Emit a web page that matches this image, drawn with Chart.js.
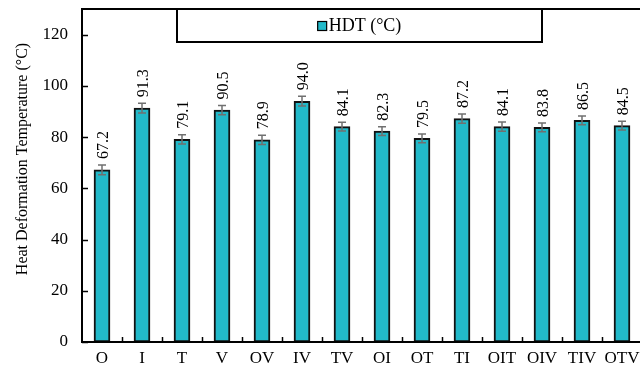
<!DOCTYPE html>
<html>
<head>
<meta charset="utf-8">
<style>
  html, body { margin: 0; padding: 0; background: #fff; overflow: hidden; }
  #wrap { width: 644px; height: 375px; position: relative; }
</style>
<script src="https://cdn.jsdelivr.net/npm/chart.js@4/dist/chart.umd.min.js"></script>
</head>
<body>
<div id="wrap"><canvas id="c" width="644" height="375"></canvas></div>
<script>
// Sample codes and measured heat deformation temperatures
const categories = ['O', 'I', 'T', 'V', 'OV', 'IV', 'TV', 'OI', 'OT', 'TI', 'OIT', 'OIV', 'TIV', 'OTV'];
const hdtValues  = [67.2, 91.3, 79.1, 90.5, 78.9, 94.0, 84.1, 82.3, 79.5, 87.2, 84.1, 83.8, 86.5, 84.5];
const hdtErrors  = [1.9, 1.9, 1.8, 1.8, 1.8, 1.9, 1.7, 1.7, 1.7, 1.8, 1.8, 1.7, 1.7, 1.7];
const yTicks     = [0, 20, 40, 60, 80, 100, 120];
const seriesName = 'HDT (°C)';
const yTitle     = 'Heat Deformation Temperature (°C)';

const SERIF = '"Liberation Serif", "Times New Roman", serif';
const FILL = '#22b9c9';

// Frame, inward ticks, error bars, value labels, axis title and legend box
const decorations = {
  id: 'decorations',
  afterDatasetsDraw(chart) {
    const { ctx, chartArea: a, scales: { x, y } } = chart;
    ctx.save();

    // error bars
    const meta = chart.getDatasetMeta(0);
    ctx.strokeStyle = '#707070';
    ctx.lineWidth = 1.5;
    meta.data.forEach((bar, i) => {
      const v = hdtValues[i], e = hdtErrors[i];
      const yt = y.getPixelForValue(v + e), yb = y.getPixelForValue(v - e);
      const cx = bar.x;
      ctx.beginPath();
      ctx.moveTo(cx, yt); ctx.lineTo(cx, yb);
      ctx.moveTo(cx - 4, yt); ctx.lineTo(cx + 4, yt);
      ctx.moveTo(cx - 4, yb); ctx.lineTo(cx + 4, yb);
      ctx.stroke();
    });

    // rotated value labels above the error bars
    ctx.fillStyle = '#000';
    ctx.font = '16px ' + SERIF;
    ctx.textAlign = 'left';
    ctx.textBaseline = 'middle';
    meta.data.forEach((bar, i) => {
      const yt = y.getPixelForValue(hdtValues[i] + hdtErrors[i]);
      ctx.save();
      ctx.translate(bar.x + 2, yt - 6);
      ctx.rotate(-Math.PI / 2);
      ctx.fillText(hdtValues[i].toFixed(1), 0, 0);
      ctx.restore();
    });

    // plot frame
    ctx.strokeStyle = '#000';
    ctx.lineWidth = 2;
    ctx.strokeRect(a.left, a.top, a.right - a.left, a.bottom - a.top);

    // inward y ticks
    ctx.lineWidth = 1.5;
    yTicks.forEach(t => {
      const py = Math.round(y.getPixelForValue(t)) + 0.5;
      ctx.beginPath();
      ctx.moveTo(a.left, py); ctx.lineTo(a.left + 6, py);
      ctx.stroke();
    });
    // inward x ticks between categories
    for (let i = 1; i < categories.length; i++) {
      const px = Math.round((x.getPixelForValue(i - 1) + x.getPixelForValue(i)) / 2) + 0.5;
      ctx.beginPath();
      ctx.moveTo(px, a.bottom); ctx.lineTo(px, a.bottom - 5);
      ctx.stroke();
    }

    // y axis title
    ctx.save();
    ctx.font = '16px ' + SERIF;
    ctx.textAlign = 'center';
    ctx.textBaseline = 'middle';
    ctx.translate(23, 159);
    ctx.rotate(-Math.PI / 2);
    ctx.fillText(yTitle, 0, 0);
    ctx.restore();

    // legend box
    const lx = 177, lw = 365, ly = a.top, lh = 33;
    ctx.fillStyle = '#fff';
    ctx.fillRect(lx, ly, lw, lh);
    ctx.lineWidth = 2;
    ctx.strokeStyle = '#000';
    ctx.strokeRect(lx, ly, lw, lh);
    ctx.font = '18px ' + SERIF;
    const tw = ctx.measureText(seriesName).width;
    const sw = 9, gap = 2;
    const sx = lx + lw / 2 - (sw + gap + tw) / 2 + 0;
    const cy = ly + lh / 2 + 0.5;
    ctx.fillStyle = FILL;
    ctx.fillRect(sx, cy - sw / 2, sw, sw);
    ctx.lineWidth = 1.2;
    ctx.strokeRect(sx, cy - sw / 2, sw, sw);
    ctx.fillStyle = '#000';
    ctx.textAlign = 'left';
    ctx.textBaseline = 'middle';
    ctx.fillText(seriesName, sx + sw + gap, cy);

    ctx.restore();
  }
};

new Chart(document.getElementById('c'), {
  type: 'bar',
  data: {
    labels: categories,
    datasets: [{
      label: seriesName,
      data: hdtValues,
      backgroundColor: FILL,
      borderColor: '#111',
      borderWidth: 2,
      borderSkipped: false,
      barThickness: 16
    }]
  },
  options: {
    responsive: false,
    animation: false,
    devicePixelRatio: 1,
    layout: { padding: { top: 9, right: 2, left: 0, bottom: 0 } },
    plugins: { legend: { display: false }, tooltip: { enabled: false } },
    scales: {
      x: {
        grid: { display: false, drawTicks: false },
        border: { display: false },
        ticks: { color: '#000', font: { family: SERIF, size: 17 }, padding: 6, maxRotation: 0, autoSkip: false },
        afterFit(s) { s.height = 33; s.paddingLeft = 0; s.paddingRight = 0; }
      },
      y: {
        min: 0, max: 130,
        grid: { display: false, drawTicks: false },
        border: { display: false },
        afterBuildTicks(s) { s.ticks = yTicks.map(v => ({ value: v })); },
        ticks: { color: '#000', font: { family: SERIF, size: 17 }, padding: 14 },
        afterFit(s) { s.width = 82; s.paddingTop = 0; s.paddingBottom = 0; }
      }
    }
  },
  plugins: [decorations]
});
</script>
</body>
</html>
